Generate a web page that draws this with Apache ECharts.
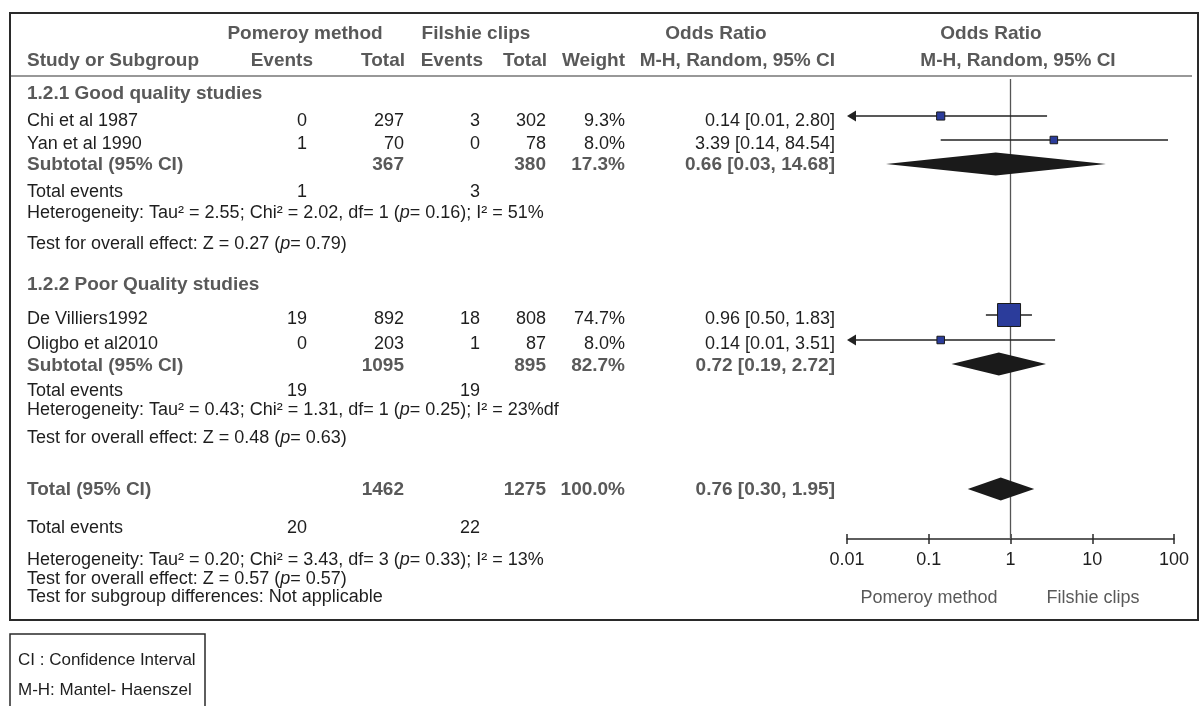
<!DOCTYPE html>
<html>
<head>
<meta charset="utf-8">
<script src="https://cdn.jsdelivr.net/npm/echarts@6/dist/echarts.min.js"></script>
<style>
html,body{margin:0;padding:0;background:#fff;}
#chart{width:1201px;height:706px;}
</style>
</head>
<body>
<div id="chart"></div>
<script>
// ---------------- DATA ----------------
const studyNames = ['Chi et al 1987', 'Yan et al 1990', 'De Villiers1992', 'Oligbo et al2010'];
const pomeroyEvents = [0, 1, 19, 0];
const pomeroyTotal = [297, 70, 892, 203];
const filshieEvents = [3, 0, 18, 1];
const filshieTotal = [302, 78, 808, 87];
const studyWeight = [9.3, 8.0, 74.7, 8.0];
const studyOR = [0.14, 3.39, 0.96, 0.14];
const studyLow = [0.01, 0.14, 0.50, 0.01];
const studyHigh = [2.80, 84.54, 1.83, 3.51];

const groupNames = ['1.2.1 Good quality studies', '1.2.2 Poor Quality studies'];
const groupPomeroyTotal = [367, 1095];
const groupFilshieTotal = [380, 895];
const groupPomeroyEvents = [1, 19];
const groupFilshieEvents = [3, 19];
const groupWeight = [17.3, 82.7];
const groupOR = [0.66, 0.72];
const groupLow = [0.03, 0.19];
const groupHigh = [14.68, 2.72];
const groupTau2 = ['2.55', '0.43'];
const groupChi2 = ['2.02', '1.31'];
const groupDf = [1, 1];
const groupP = ['0.16', '0.25'];
const groupI2 = ['51%', '23%df'];
const groupZ = ['0.27', '0.48'];
const groupZp = ['0.79', '0.63'];

const overallPomeroyTotal = 1462;
const overallFilshieTotal = 1275;
const overallPomeroyEvents = 20;
const overallFilshieEvents = 22;
const overallWeight = 100.0;
const overallOR = 0.76;
const overallLow = 0.30;
const overallHigh = 1.95;
const overallHet = { tau2: '0.20', chi2: '3.43', df: 3, p: '0.33', i2: '13%' };
const overallZ = { z: '0.57', p: '0.57' };
const subgroupTest = 'Not applicable';

const axisTicks = [0.01, 0.1, 1, 10, 100];
const axisTickLabels = ['0.01', '0.1', '1', '10', '100'];
const favoursLabels = ['Pomeroy method', 'Filshie clips'];
const legendLines = ['CI : Confidence Interval', 'M-H: Mantel- Haenszel'];

// ---------------- LAYOUT (pixels) ----------------
const FONT = '"Liberation Sans", Arial, sans-serif';
const FS = 18, FSB = 19;
const C_TEXT = '#1e1e1e', C_GRAY = '#595959';
const rows = {
  h1: 34, h2: 61,
  g: [94, 285],
  study: [121, 144, 319, 344],
  studyMark: [116, 140, 315, 340],
  sub: [165, 366],
  subMark: [164, 364],
  te: [192, 391],
  het: [213, 410],
  test: [244, 438],
  total: 490, totalMark: 489, te3: 528, het3: 560, test3: 579, tsub: 597
};
const col = { name: 27, pE: 307, pT: 404, fE: 480, fT: 546, w: 625, or: 835 };
const plot = { left: 847, right: 1174, top: 79, axisY: 539 };

function fmt2(v) { return v.toFixed(2); }
function orText(o, l, h) { return fmt2(o) + ' [' + fmt2(l) + ', ' + fmt2(h) + ']'; }

// ---------------- TEXT ELEMENTS ----------------
const g = [];
function txt(x, y, s, align, bold, color, size, rich) {
  const style = {
    x: x, y: y, text: s, textAlign: align || 'left', textVerticalAlign: 'middle',
    font: (bold ? 'bold ' : '') + (size || (bold ? FSB : FS)) + 'px ' + FONT,
    fill: color || (bold ? C_GRAY : C_TEXT)
  };
  if (rich) style.rich = rich;
  g.push({ type: 'text', z: 10, style: style });
}
const richP = {
  i: { fontStyle: 'italic', fontSize: FS, fontFamily: FONT, fill: C_TEXT }
};

// headers
txt(305, rows.h1, 'Pomeroy method', 'center', true);
txt(476, rows.h1, 'Filshie clips', 'center', true);
txt(716, rows.h1, 'Odds Ratio', 'center', true);
txt(991, rows.h1, 'Odds Ratio', 'center', true);
txt(col.name, rows.h2, 'Study or Subgroup', 'left', true);
txt(313, rows.h2, 'Events', 'right', true);
txt(405, rows.h2, 'Total', 'right', true);
txt(483, rows.h2, 'Events', 'right', true);
txt(547, rows.h2, 'Total', 'right', true);
txt(col.w, rows.h2, 'Weight', 'right', true);
txt(col.or, rows.h2, 'M-H, Random, 95% CI', 'right', true);
txt(1018, rows.h2, 'M-H, Random, 95% CI', 'center', true);

// groups
for (let k = 0; k < groupNames.length; k++) {
  txt(col.name, rows.g[k], groupNames[k], 'left', true);
  txt(col.name, rows.sub[k], 'Subtotal (95% CI)', 'left', true);
  txt(col.pT, rows.sub[k], String(groupPomeroyTotal[k]), 'right', true);
  txt(col.fT, rows.sub[k], String(groupFilshieTotal[k]), 'right', true);
  txt(col.w, rows.sub[k], groupWeight[k].toFixed(1) + '%', 'right', true);
  txt(col.or, rows.sub[k], orText(groupOR[k], groupLow[k], groupHigh[k]), 'right', true);
  txt(col.name, rows.te[k], 'Total events');
  txt(col.pE, rows.te[k], String(groupPomeroyEvents[k]), 'right');
  txt(col.fE, rows.te[k], String(groupFilshieEvents[k]), 'right');
  txt(col.name, rows.het[k],
    'Heterogeneity: Tau² = ' + groupTau2[k] + '; Chi² = ' + groupChi2[k] + ', df= ' + groupDf[k] +
    ' ({i|p}= ' + groupP[k] + '); I² = ' + groupI2[k], 'left', false, null, null, richP);
  txt(col.name, rows.test[k],
    'Test for overall effect: Z = ' + groupZ[k] + ' ({i|p}= ' + groupZp[k] + ')', 'left', false, null, null, richP);
}
// studies
for (let i = 0; i < studyNames.length; i++) {
  const y = rows.study[i];
  txt(col.name, y, studyNames[i]);
  txt(col.pE, y, String(pomeroyEvents[i]), 'right');
  txt(col.pT, y, String(pomeroyTotal[i]), 'right');
  txt(col.fE, y, String(filshieEvents[i]), 'right');
  txt(col.fT, y, String(filshieTotal[i]), 'right');
  txt(col.w, y, studyWeight[i].toFixed(1) + '%', 'right');
  txt(col.or, y, orText(studyOR[i], studyLow[i], studyHigh[i]), 'right');
}
// overall
txt(col.name, rows.total, 'Total (95% CI)', 'left', true);
txt(col.pT, rows.total, String(overallPomeroyTotal), 'right', true);
txt(col.fT, rows.total, String(overallFilshieTotal), 'right', true);
txt(col.w, rows.total, overallWeight.toFixed(1) + '%', 'right', true);
txt(col.or, rows.total, orText(overallOR, overallLow, overallHigh), 'right', true);
txt(col.name, rows.te3, 'Total events');
txt(col.pE, rows.te3, String(overallPomeroyEvents), 'right');
txt(col.fE, rows.te3, String(overallFilshieEvents), 'right');
txt(col.name, rows.het3,
  'Heterogeneity: Tau² = ' + overallHet.tau2 + '; Chi² = ' + overallHet.chi2 + ', df= ' + overallHet.df +
  ' ({i|p}= ' + overallHet.p + '); I² = ' + overallHet.i2, 'left', false, null, null, richP);
txt(col.name, rows.test3, 'Test for overall effect: Z = ' + overallZ.z + ' ({i|p}= ' + overallZ.p + ')', 'left', false, null, null, richP);
txt(col.name, rows.tsub, 'Test for subgroup differences: ' + subgroupTest);

// favours labels
txt(929, 598, favoursLabels[0], 'center', false, C_GRAY);
txt(1093, 598, favoursLabels[1], 'center', false, C_GRAY);

// legend box
txt(18, 660, legendLines[0], 'left', false, null, 17);
txt(18, 690, legendLines[1], 'left', false, null, 17);

// frames
g.push({ type: 'rect', z: 1, shape: { x: 10, y: 13, width: 1188, height: 607 },
  style: { fill: 'none', stroke: '#2a2a2a', lineWidth: 2 } });
g.push({ type: 'line', z: 1, shape: { x1: 10, y1: 76, x2: 1192, y2: 76 },
  style: { stroke: '#333', lineWidth: 1.2 } });
g.push({ type: 'rect', z: 1, shape: { x: 10, y: 634, width: 195, height: 85 },
  style: { fill: 'none', stroke: '#2a2a2a', lineWidth: 1.5 } });

// ---------------- SERIES DATA ----------------
const studyData = studyNames.map((n, i) => [studyOR[i], studyLow[i], studyHigh[i], rows.studyMark[i], studyWeight[i]]);
const diamondData = groupNames.map((n, k) => [groupOR[k], groupLow[k], groupHigh[k], rows.subMark[k]])
  .concat([[overallOR, overallLow, overallHigh, rows.totalMark]]);

const chart = echarts.init(document.getElementById('chart'), null, { renderer: 'canvas' });
const XMIN = axisTicks[0], XMAX = axisTicks[axisTicks.length - 1];

chart.setOption({
  animation: false,
  grid: [
    { left: plot.left, width: plot.right - plot.left, top: 0, height: 706 },
    { left: plot.left, width: plot.right - plot.left, top: plot.top, height: plot.axisY - plot.top }
  ],
  xAxis: [
    { type: 'log', gridIndex: 0, min: XMIN, max: XMAX, logBase: 10, show: false },
    { type: 'log', gridIndex: 1, min: XMIN, max: XMAX, logBase: 10, position: 'bottom',
      axisLine: { lineStyle: { color: '#2a2a2a', width: 1.5 } },
      axisTick: { inside: false, length: 5, lineStyle: { color: '#2a2a2a', width: 1.5 } },
      axisLabel: { margin: 12, color: C_TEXT, fontSize: FS, fontFamily: FONT,
        formatter: v => { const i = axisTicks.findIndex(t => Math.abs(t - v) / t < 1e-6); return i >= 0 ? axisTickLabels[i] : ''; } },
      splitLine: { show: false } },
    { type: 'log', gridIndex: 1, min: XMIN, max: XMAX, logBase: 10, position: 'bottom',
      axisLine: { show: false },
      axisTick: { inside: true, length: 5, lineStyle: { color: '#2a2a2a', width: 1.5 } },
      axisLabel: { show: false }, splitLine: { show: false } }
  ],
  yAxis: [
    { type: 'value', gridIndex: 0, min: 0, max: 706, inverse: true, show: false },
    { type: 'value', gridIndex: 1, min: 0, max: 1, show: false }
  ],
  graphic: g,
  series: [
    { // line of no effect
      type: 'line', xAxisIndex: 1, yAxisIndex: 1, data: [[1, 0], [1, 1]], symbol: 'none',
      lineStyle: { color: '#555', width: 1.3 }, z: 2, silent: true
    },
    { // study CIs + squares
      type: 'custom', xAxisIndex: 0, yAxisIndex: 0, z: 5, data: studyData,
      renderItem: function (params, api) {
        const or = api.value(0), lo = api.value(1), hi = api.value(2), y = api.value(3), w = api.value(4);
        const pLo = api.coord([Math.max(lo, XMIN), y]);
        const pHi = api.coord([Math.min(hi, XMAX), y]);
        const pM = api.coord([or, y]);
        const yy = pM[1];
        const children = [];
        const arrowL = lo <= XMIN;
        children.push({ type: 'line', shape: { x1: pLo[0] + (arrowL ? 6 : 0), y1: yy, x2: pHi[0], y2: yy },
          style: { stroke: '#222', lineWidth: 1.5 } });
        if (arrowL) {
          children.push({ type: 'polygon', shape: { points: [[pLo[0], yy], [pLo[0] + 9, yy - 5.5], [pLo[0] + 9, yy + 5.5]] },
            style: { fill: '#222' } });
        }
        const s = 2.66 * Math.sqrt(w);
        children.push({ type: 'rect', shape: { x: pM[0] - s / 2, y: yy - s / 2, width: s, height: s },
          style: { fill: '#2b3c9b', stroke: '#1a1a1a', lineWidth: 1 } });
        return { type: 'group', children: children };
      }
    },
    { // diamonds
      type: 'custom', xAxisIndex: 0, yAxisIndex: 0, z: 5, data: diamondData,
      renderItem: function (params, api) {
        const or = api.value(0), lo = api.value(1), hi = api.value(2), y = api.value(3);
        const a = api.coord([lo, y]), m = api.coord([or, y]), b = api.coord([hi, y]);
        const h = 11.5, yy = m[1];
        return { type: 'polygon', shape: { points: [[a[0], yy], [m[0], yy - h], [b[0], yy], [m[0], yy + h]] },
          style: { fill: '#1a1a1a' } };
      }
    }
  ]
});
</script>
</body>
</html>
